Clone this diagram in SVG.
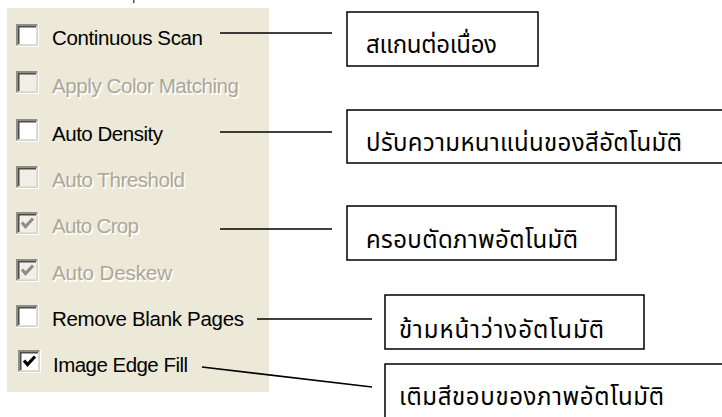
<svg xmlns="http://www.w3.org/2000/svg" width="722" height="417" viewBox="0 0 722 417">
<style>
.ui{font-family:"Liberation Sans",Arial,sans-serif;font-size:20.5px;}
.en{fill:#000;}
.dis{fill:#ACA899;}
.sh{fill:#fff;}
.th{font-family:"Noto Sans Thai","Noto Sans","DejaVu Sans",sans-serif;font-size:24px;fill:#000;}
.box{fill:#fff;stroke:#000;stroke-width:1.5;}
.conn{stroke:#000;stroke-width:1.6;fill:none;}
</style>
<defs>
<g id="cbFrame">
<rect x="0" y="0" width="23" height="23" fill="#fff"/>
<rect x="0" y="0" width="21.5" height="21.5" fill="#8f8d84"/>
<rect x="2" y="2" width="19.5" height="19.5" fill="#e2dfd2"/>
<rect x="2" y="2" width="18" height="18" fill="#4a4a46"/>
</g>
<g id="cbOn">
<use href="#cbFrame"/>
<rect x="3.5" y="3.5" width="16.5" height="16.5" fill="#fff"/>
</g>
<g id="cbOff">
<use href="#cbFrame"/>
<rect x="3.5" y="3.5" width="16.5" height="16.5" fill="#f1efe6"/>
</g>
<polyline id="tick" points="6,10.5 9.5,14.5 17,6.5" fill="none" stroke-width="3.2" stroke-linejoin="miter"/>
</defs>
<rect width="722" height="417" fill="#fff"/>
<rect id="panel" x="7" y="8" width="262" height="384" fill="#ECE9D8"/>
<rect x="133" y="0" width="1.5" height="3" fill="#555"/>

<g id="opt-continuous-scan">
<use href="#cbOn" x="16" y="24"/>
<text class="ui en" x="52" y="45" textLength="151">Continuous Scan</text>
</g>
<g id="opt-apply-color-matching">
<use href="#cbOff" x="16" y="71"/>
<text class="ui sh" x="53.5" y="94.5" textLength="187">Apply Color Matching</text>
<text class="ui dis" x="52" y="93" textLength="187">Apply Color Matching</text>
</g>
<g id="opt-auto-density">
<use href="#cbOn" x="16" y="119"/>
<text class="ui en" x="52" y="141" textLength="111">Auto Density</text>
</g>
<g id="opt-auto-threshold">
<use href="#cbOff" x="16" y="166"/>
<text class="ui sh" x="53.5" y="188.5" textLength="133">Auto Threshold</text>
<text class="ui dis" x="52" y="187" textLength="133">Auto Threshold</text>
</g>
<g id="opt-auto-crop">
<use href="#cbOff" x="16" y="212"/>
<use href="#tick" x="16" y="212" stroke="#8f8d84"/>
<text class="ui sh" x="53.5" y="234.5" textLength="87">Auto Crop</text>
<text class="ui dis" x="52" y="233" textLength="87">Auto Crop</text>
</g>
<g id="opt-auto-deskew">
<use href="#cbOff" x="16" y="259"/>
<use href="#tick" x="16" y="259" stroke="#8f8d84"/>
<text class="ui sh" x="53.5" y="281.5" textLength="120">Auto Deskew</text>
<text class="ui dis" x="52" y="280" textLength="120">Auto Deskew</text>
</g>
<g id="opt-remove-blank-pages">
<use href="#cbOn" x="16" y="305"/>
<text class="ui en" x="52" y="326" textLength="192">Remove Blank Pages</text>
</g>
<g id="opt-image-edge-fill">
<use href="#cbOn" x="18" y="350"/>
<use href="#tick" x="18" y="350" stroke="#000"/>
<text class="ui en" x="53" y="372" textLength="135">Image Edge Fill</text>
</g>

<g id="connectors">
<line class="conn" x1="220" y1="33" x2="332" y2="33"/>
<line class="conn" x1="220" y1="132" x2="332" y2="132"/>
<line class="conn" x1="220" y1="229" x2="332" y2="229"/>
<line class="conn" x1="257" y1="319" x2="372" y2="319"/>
<line class="conn" x1="202" y1="367" x2="372" y2="387"/>
</g>

<g id="label-continuous-scan">
<rect class="box" x="347" y="12" width="191" height="54"/>
<text class="th" x="366" y="53" textLength="131">สแกนต่อเนื่อง</text>
</g>
<g id="label-auto-density">
<rect class="box" x="347" y="110" width="400" height="53"/>
<text class="th" x="366" y="151" textLength="316">ปรับความหนาแน่นของสีอัตโนมัติ</text>
</g>
<g id="label-auto-crop">
<rect class="box" x="347" y="206" width="269" height="54"/>
<text class="th" x="366" y="248" textLength="212">ครอบตัดภาพอัตโนมัติ</text>
</g>
<g id="label-remove-blank">
<rect class="box" x="385" y="295" width="259" height="54"/>
<text class="th" x="399" y="338" textLength="205">ข้ามหน้าว่างอัตโนมัติ</text>
</g>
<g id="label-image-edge-fill">
<rect class="box" x="385" y="364" width="400" height="70"/>
<text class="th" x="399" y="405" textLength="265">เติมสีขอบของภาพอัตโนมัติ</text>
</g>
</svg>
